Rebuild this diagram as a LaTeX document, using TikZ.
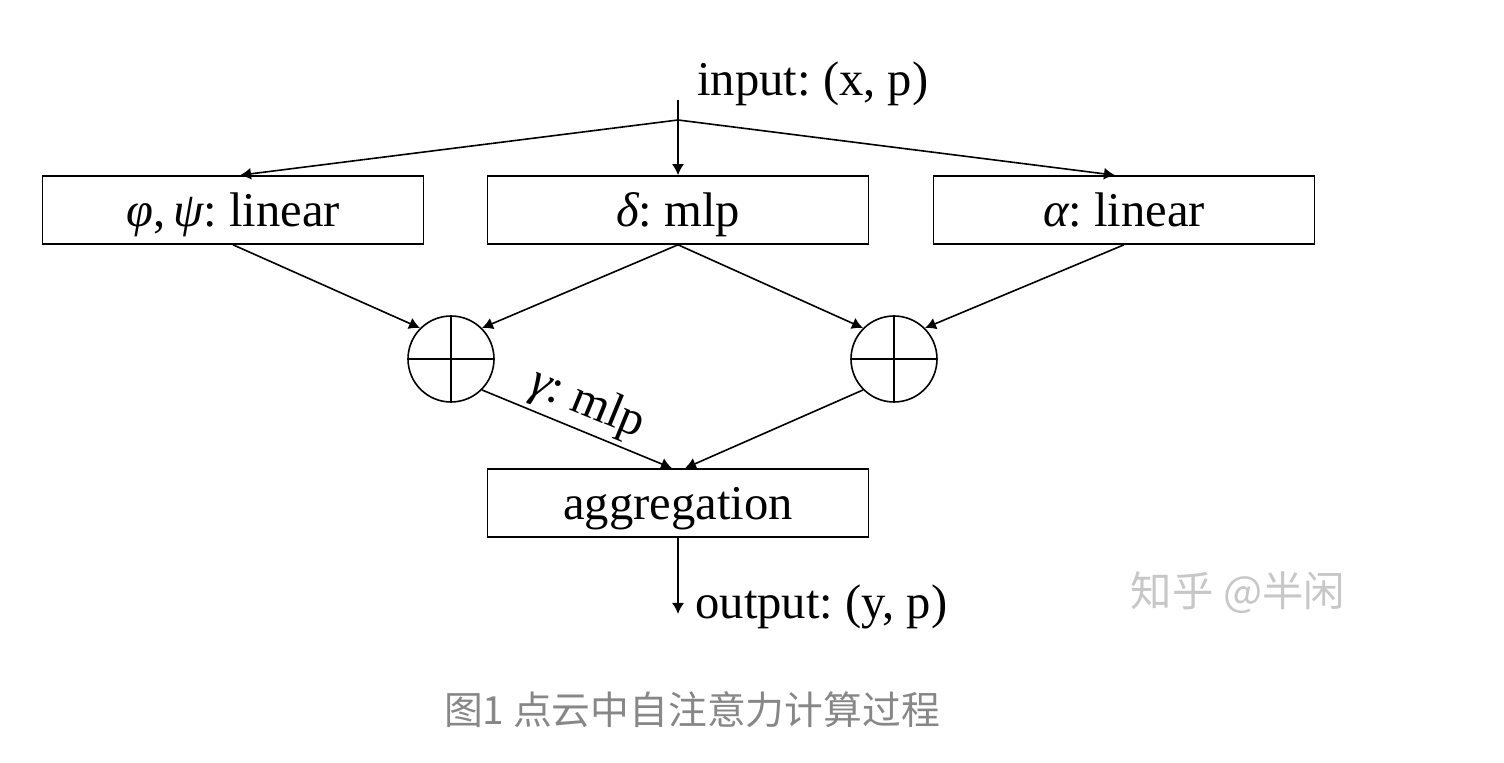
\documentclass[tikz,border=0pt]{standalone}
\usepackage{fontspec}
\setmainfont{Liberation Serif}
\newfontfamily\cjk{Noto Sans CJK SC}
\usetikzlibrary{calc,arrows.meta}
\frenchspacing
\tikzset{
  opbox/.style={draw, minimum width=190.5pt, minimum height=34pt, inner sep=0pt, text height=21pt, text depth=4pt},
  addnode/.style={draw, circle, minimum size=43pt, inner sep=0pt}
}

\begin{document}
\begin{tikzpicture}[x=0.5pt, y=-0.5pt, line width=0.8pt, font=\fontsize{24.3}{29}\selectfont, >={Latex[length=5.5pt, width=6pt]}]
                        \useasboundingbox (0,0) rectangle (1504,763);
                        \node (in) [anchor=west] at (690,84) {input: (x, p)};
                        \coordinate (top) at (678,100);
                        \coordinate (fork) at (678,120);
                        \node[opbox] (lin) at (233,210) {{\itshape φ},\,{\itshape ψ}: linear};
                        \node[opbox] (mlp) at (678,210) {{\itshape δ}: mlp};
                        \node[opbox] (alp) at (1124,210) {{\itshape α}: linear};
                        \node[addnode] (addl) at (451,359) {};
                        \node[addnode] (addr) at (894,359) {};
                        \draw (addl.north) -- (addl.south) (addl.west) -- (addl.east);
                        \draw (addr.north) -- (addr.south) (addr.west) -- (addr.east);
                        \node[opbox] (agg) at (678,503) {aggregation};
                        \coordinate (end) at (678,614);
                        \node (out) [anchor=west] at (688,607) {output: (y, p)};
                        \draw[->] (top) -- (mlp.north);
                        \draw[->] (fork) -- ($(lin.north)+(7,0)$);
                        \draw[->] (fork) -- ($(alp.north)+(-9,0)$);
                        \draw[->] (lin.south) -- (addl.135);
                        \draw[->] (mlp.south) -- (addl.45);
                        \draw[->] (mlp.south) -- (addr.135);
                        \draw[->] (alp.south) -- (addr.45);
                        \draw[->] (addl.-45) -- node[above, sloped, inner sep=2pt] {{\itshape γ}: mlp} ($(agg.north)+(-6,0)$);
                        \draw[->] (addr.-135) -- ($(agg.north)+(7,0)$);
                        \draw[->] (agg.south) -- (end);
                        \node[font=\cjk\fontsize{20.7}{24}\selectfont, text=black!22] (mark) at (1238,593) {知乎 @半闲};
                        \node[font=\cjk\fontsize{19.4}{23}\selectfont, text=black!47] (cap) at (692,710) {图1 点云中自注意力计算过程};
                    \end{tikzpicture}
\end{document}
